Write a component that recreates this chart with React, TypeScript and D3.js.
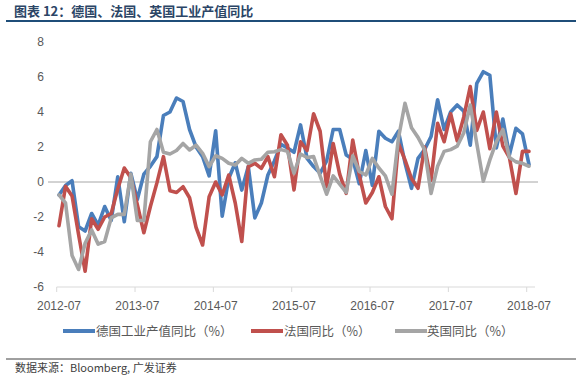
import React from "react";
import * as d3 from "d3";

const startYear = 2012;
const startMonth = 7;
const tickLabels = ["2012-07", "2013-07", "2014-07", "2015-07", "2016-07", "2017-07", "2018-07"];
const yTicks = [-6, -4, -2, 0, 2, 4, 6, 8];

const germany = [
  -0.74, -0.2, 0.07, -2.55, -2.8, -1.8, -2.46, -1.4, -2.2, 0.3, -2.27, 0.5,
  -1.0, 0.45, 0.9, 1.45, 3.8, 4.0, 4.8, 4.6, 3.0, 2.0, 1.45, 0.35,
  2.93, -1.95, 0.2, 1.1, -0.46, 0.88, -2.05, -1.2, 0.4, 1.2, 2.15, 1.95,
  1.7, 3.26, 1.35, 0.88, 0.5, 1.2, 3.0, 3.0, 1.54, 1.3, -0.1, 1.8,
  -0.2, 2.9, 2.5, 2.3, 2.9, 1.1, -0.36, 1.35, 1.85, 2.6, 4.7, 3.0,
  4.0, 4.4, 4.05, 2.1, 5.64, 6.3, 6.1, 1.95, 3.6, 1.55, 3.07, 2.75,
  1.0,
];
const france = [
  -2.5, -0.25, -0.8, -3.0, -5.1, -2.1, -2.7, -2.0, -1.8, -0.4, 0.8, 0.25,
  -1.3, -2.9, -1.4, -0.05, 1.45, -0.5, -0.6, -0.27, -0.9, -2.6, -3.6, -0.84,
  0.0, -0.74, 0.4, -1.2, -3.4, 0.88, 1.07, 0.78, 1.45, 0.3, 2.7, 2.1,
  -0.45, 2.3, 1.8, 3.9, 2.9, -0.27, 2.2, 0.45, -0.65, 2.4, 0.4, -1.2,
  -0.6, 0.3, -1.4, -2.1, 2.2, 1.26, 0.2, -0.36, 2.0, 0.1, 3.35, 2.3,
  3.9, 2.35, 3.7, 5.45, 2.95, 4.0, 1.9, 4.0, 2.05, 1.4, -0.65, 1.75,
  1.75,
];
const uk = [
  -0.74, -1.2, -4.2, -5.0, -3.5, -2.74, -3.55, -3.4, -2.05, -1.85, -1.85, 0.45,
  -2.2, -2.2, 2.3, 3.0, 1.7, 1.6, 1.8, 2.2, 1.83, 2.1, 1.64, 0.88,
  1.5, 1.35, 1.07, 0.97, 1.35, 1.07, 1.26, 1.3, 1.7, 1.73, 1.85, 1.75,
  0.5, 1.6, 1.4, 1.45, 0.35, -0.7, 0.35, -0.12, -0.6, 1.5, 0.6, 0.4,
  1.35, 0.8, 0.35, -0.7, 2.5, 4.5, 3.1, 2.55, 1.85, -0.65, 0.9, 1.75,
  1.85, 2.05, 2.8, 4.4, 2.2, 0.05, 1.26, 2.3, 3.0, 1.4, 1.15, 1.07,
  0.9,
];

const seriesNames = ["德国工业产值同比（%）", "法国同比（%）", "英国同比（%）"];
const seriesColors = ["#4a7ebb", "#c0504d", "#a5a5a5"];

const W = 582;
const H = 383;
const cjk = "'Noto Sans CJK SC', 'Noto Sans', sans-serif";
const latin = "'Liberation Sans', Arial, sans-serif";

export default function App() {
  const n = germany.length;
  const x = d3.scaleLinear().domain([0, n - 1]).range([59, 529]);
  const y = d3.scaleLinear().domain([-6, 8]).range([287, 42]);
  const line = d3
    .line<number>()
    .x((_, i) => x(i))
    .y((d) => y(d));
  const all = [germany, france, uk];
  const tickIdx = tickLabels.map((_, k) => k * 12);

  const legendItems = [
    { lx: 63, tx: 96 },
    { lx: 251, tx: 284 },
    { lx: 395, tx: 427 },
  ];

  return (
    <svg
      width={W}
      height={H}
      style={{ position: "absolute", left: 0, top: 0, background: "#fff" }}
    >
      <rect x={0} y={0} width={W} height={H} fill="#fff" />
      <text x={14} y={16} fontFamily={cjk} fontSize={13} fontWeight={700} fill="#2b4566">
        图表 12：德国、法国、英国工业产值同比
      </text>
      <line x1={6} x2={576} y1={21} y2={21} stroke="#1f4e79" strokeWidth={2} />

      {yTicks.map((t) => (
        <text
          key={t}
          x={44}
          y={y(t) + 4}
          textAnchor="end"
          fontFamily={latin}
          fontSize={12}
          fill="#595959"
        >
          {t}
        </text>
      ))}

      <line x1={48} x2={538} y1={y(0)} y2={y(0)} stroke="#a6a6a6" strokeWidth={1} />
      <line x1={x(0) - 2.3} x2={535} y1={y(-6)} y2={y(-6)} stroke="#d9d9d9" strokeWidth={1} />
      {tickIdx.map((i) => (
        <line
          key={i}
          x1={x(i) - 2.3}
          x2={x(i) - 2.3}
          y1={y(-6)}
          y2={y(-6) + 5}
          stroke="#d9d9d9"
          strokeWidth={1}
        />
      ))}
      {tickIdx.map((i, k) => (
        <text
          key={"l" + i}
          x={x(i)}
          y={310}
          textAnchor="middle"
          fontFamily={latin}
          fontSize={12}
          fill="#595959"
        >
          {tickLabels[k]}
        </text>
      ))}

      {all.map((s, k) => (
        <path
          key={k}
          d={line(s) || ""}
          fill="none"
          stroke={seriesColors[k]}
          strokeWidth={3.6}
          strokeLinejoin="round"
          strokeLinecap="round"
        />
      ))}

      {legendItems.map((it, k) => (
        <g key={k}>
          <line
            x1={it.lx}
            x2={it.lx + 32}
            y1={331}
            y2={331}
            stroke={seriesColors[k]}
            strokeWidth={4}
          />
          <text x={it.tx} y={336} fontFamily={cjk} fontSize={12.5} fill="#595959">
            {seriesNames[k]}
          </text>
        </g>
      ))}

      <line x1={6} x2={576} y1={359} y2={359} stroke="#404040" strokeWidth={1} />
      <text x={15} y={372} fontFamily={cjk} fontSize={11} fill="#404040">
        数据来源：Bloomberg, 广发证券
      </text>
    </svg>
  );
}
